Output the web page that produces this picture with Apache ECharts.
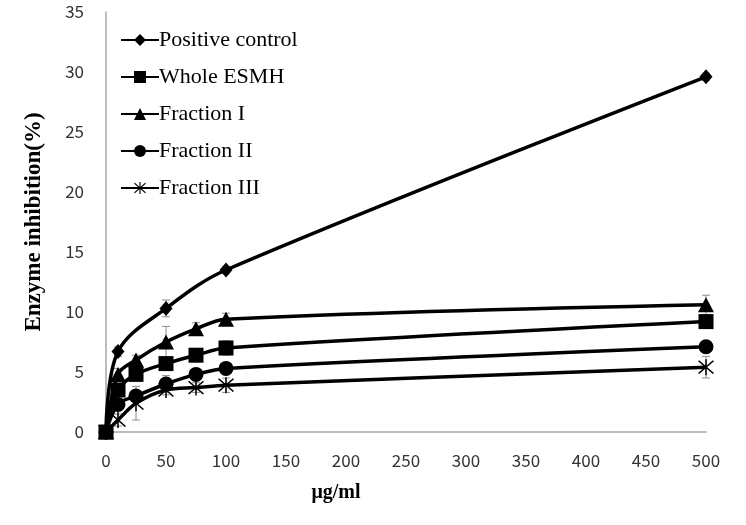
<!DOCTYPE html>
<html>
<head>
<meta charset="utf-8">
<script src="https://cdn.jsdelivr.net/npm/echarts@6/dist/echarts.min.js"></script>
<style>html,body{margin:0;padding:0;background:#fff;}#c{width:746px;height:525px;}</style>
</head>
<body>
<div id="c"></div>
<script>
// ---- data ----
var seriesNames = ['Positive control', 'Whole ESMH', 'Fraction I', 'Fraction II', 'Fraction III'];
var xPositive = [0, 10, 50, 100, 500];
var xFractions = [0, 10, 25, 50, 75, 100, 500];
var positiveControl = [0, 6.7, 10.3, 13.5, 29.6];
var positiveControlErr = [0, 0.4, 0.7, 0.3, 0.3];
var wholeESMH = [0, 3.5, 4.8, 5.7, 6.4, 7.0, 9.2];
var wholeESMHErr = [0, 0.3, 0.3, 0.5, 0.5, 0.6, 0.4];
var fraction1 = [0, 4.8, 6.0, 7.5, 8.6, 9.4, 10.6];
var fraction1Err = [0, 0.5, 0.4, 1.3, 0.5, 0.5, 0.8];
var fraction2 = [0, 2.3, 3.0, 4.0, 4.8, 5.3, 7.1];
var fraction2Err = [0, 0.3, 0.4, 0.7, 0.4, 0.4, 0.3];
var fraction3 = [0, 1.0, 2.4, 3.5, 3.7, 3.9, 5.4];
var fraction3Err = [0, 0.5, 1.4, 0.4, 0.4, 0.6, 0.9];
var xTicks = [0, 50, 100, 150, 200, 250, 300, 350, 400, 450, 500];
var yTicks = [0, 5, 10, 15, 20, 25, 30, 35];

// ---- build ----
function pairs(xs, ys) { return xs.map(function (x, i) { return [x, ys[i]]; }); }
function errs(xs, ys, es) { return xs.map(function (x, i) { return [x, ys[i], es[i]]; }); }

var starPath = 'path://M46,0L54,0L54,100L46,100Z M7,13L13,7L93,87L87,93Z M87,7L93,13L13,93L7,87Z';

var allSets = [
  { name: seriesNames[0], xs: xPositive, ys: positiveControl, es: positiveControlErr, symbol: 'diamond', size: [13, 15], z: 2 },
  { name: seriesNames[1], xs: xFractions, ys: wholeESMH, es: wholeESMHErr, symbol: 'rect', size: 15, z: 4 },
  { name: seriesNames[2], xs: xFractions, ys: fraction1, es: fraction1Err, symbol: 'triangle', size: [16, 15], z: 2 },
  { name: seriesNames[3], xs: xFractions, ys: fraction2, es: fraction2Err, symbol: 'circle', size: 15, z: 2 },
  { name: seriesNames[4], xs: xFractions, ys: fraction3, es: fraction3Err, symbol: starPath, size: 16, z: 2 }
];

var series = [];
allSets.forEach(function (s) {
  series.push({
    name: s.name,
    type: 'line',
    data: pairs(s.xs, s.ys),
    smooth: 0.35,
    symbol: s.symbol,
    symbolSize: s.size,
    showAllSymbol: true,
    z: s.z,
    lineStyle: { color: '#000', width: 3.5 },
    itemStyle: { color: '#000', borderWidth: 0 },
    emphasis: { disabled: true },
    animation: false
  });
  series.push({
    type: 'custom',
    name: s.name + ' err',
    z: 1,
    silent: true,
    animation: false,
    data: errs(s.xs, s.ys, s.es),
    renderItem: function (params, api) {
      var x = api.value(0), y = api.value(1), e = api.value(2);
      if (!e) return null;
      var top = api.coord([x, y + e]);
      var bot = api.coord([x, y - e]);
      var w = 4;
      var st = { stroke: '#8c8c8c', lineWidth: 1 };
      return {
        type: 'group',
        children: [
          { type: 'line', shape: { x1: top[0], y1: top[1], x2: bot[0], y2: bot[1] }, style: st },
          { type: 'line', shape: { x1: top[0] - w, y1: top[1], x2: top[0] + w, y2: top[1] }, style: st },
          { type: 'line', shape: { x1: bot[0] - w, y1: bot[1], x2: bot[0] + w, y2: bot[1] }, style: st }
        ]
      };
    }
  });
});

var chart = echarts.init(document.getElementById('c'), null, { renderer: 'canvas' });
chart.setOption({
  backgroundColor: '#fff',
  animation: false,
  grid: { left: 106, right: 40, top: 12, bottom: 93, containLabel: false },
  legend: {
    data: seriesNames,
    orient: 'vertical',
    left: 115,
    top: 24,
    itemWidth: 38,
    itemHeight: 15,
    itemGap: 15,
    textStyle: { fontFamily: 'Liberation Serif', fontSize: 22, color: '#000', lineHeight: 22, padding: [0, 0, 0, -5] },
    selectedMode: false
  },
  xAxis: {
    type: 'value',
    min: xTicks[0],
    max: xTicks[xTicks.length - 1],
    interval: 50,
    name: 'μg/ml',
    nameLocation: 'middle',
    nameGap: 51,
    nameTextStyle: { fontFamily: 'Liberation Serif', fontWeight: 'bold', fontSize: 20, color: '#000', padding: [0, 140, 0, 0] },
    axisLine: { show: true, lineStyle: { color: '#a6a6a6', width: 1.5 } },
    axisTick: { show: false },
    splitLine: { show: false },
    axisLabel: { margin: 20, fontFamily: 'Noto Sans CJK KR', fontSize: 17, color: '#333' }
  },
  yAxis: {
    type: 'value',
    min: yTicks[0],
    max: yTicks[yTicks.length - 1],
    interval: 5,
    name: 'Enzyme inhibition(%)',
    nameLocation: 'middle',
    nameGap: 60,
    nameTextStyle: { fontFamily: 'Liberation Serif', fontWeight: 'bold', fontSize: 23, color: '#000' },
    axisLine: { show: true, lineStyle: { color: '#a6a6a6', width: 1.5 } },
    axisTick: { show: false },
    splitLine: { show: false },
    axisLabel: { margin: 22, fontFamily: 'Noto Sans CJK KR', fontSize: 17, color: '#333' }
  },
  series: series
});
</script>
</body>
</html>
